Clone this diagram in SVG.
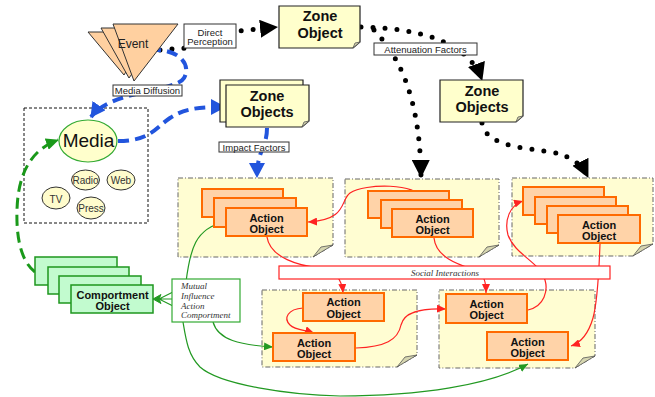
<svg xmlns="http://www.w3.org/2000/svg" width="655" height="397" viewBox="0 0 655 397">
<defs>
<style>
.lbl{font-family:"Liberation Sans",Arial,sans-serif;font-size:9.5px;fill:#222;text-anchor:middle}
.lblbox{fill:#fff;stroke:#333;stroke-width:1}
.zone{fill:#FFFFCC;stroke:#222;stroke-width:1.2}
.fold{fill:#D6D6B0;stroke:#555;stroke-width:0.8}
.zt{font-family:"Liberation Sans",Arial,sans-serif;font-weight:bold;font-size:14.5px;fill:#111;text-anchor:middle}
.panel{fill:#FFFDD2;stroke:#666;stroke-width:1;stroke-dasharray:5 2 1 2}
.act{fill:#FFD3A8;stroke:#FF6A00;stroke-width:2}
.at{font-family:"Liberation Sans",Arial,sans-serif;font-weight:bold;font-size:11px;fill:#111;text-anchor:middle}
.comp{fill:#C2FBCF;stroke:#1E961E;stroke-width:1.5}
.tri{fill:#FFD0A0;stroke:#333;stroke-width:1}
.blue{fill:none;stroke:#2255DD;stroke-width:4;stroke-dasharray:11 6}
.dots{fill:none;stroke:#000;stroke-width:5;stroke-linecap:round;stroke-dasharray:0 12}
.red{fill:none;stroke:#F22;stroke-width:1.2}
.green{fill:none;stroke:#229922;stroke-width:1.2}
.gdash{fill:none;stroke:#1A991A;stroke-width:3;stroke-dasharray:11 6}
.it{font-family:"Liberation Serif","Times New Roman",serif;font-style:italic;font-size:9px;fill:#333}
.small{fill:#FFFCCC;stroke:#333;stroke-width:1}
.st{font-family:"Liberation Sans",Arial,sans-serif;font-size:10px;fill:#333;text-anchor:middle}
</style>
<marker id="mBlack" markerUnits="userSpaceOnUse" viewBox="0 0 18 18" markerWidth="18" markerHeight="18" refX="17" refY="9" orient="auto"><path d="M0,0 L18,9 L0,18 Z" fill="#000"/></marker>
<marker id="mBlue" markerUnits="userSpaceOnUse" viewBox="0 0 15 16" markerWidth="15" markerHeight="16" refX="14" refY="8" orient="auto"><path d="M0,0 L15,8 L0,16 Z" fill="#2255DD"/></marker>
<marker id="mRed" markerUnits="userSpaceOnUse" viewBox="0 0 9 8" markerWidth="9" markerHeight="8" refX="9" refY="4" orient="auto"><path d="M0,0 L9,4 L0,8 Z" fill="#F22"/></marker>
<marker id="mGreen" markerUnits="userSpaceOnUse" viewBox="0 0 9 8" markerWidth="9" markerHeight="8" refX="9" refY="4" orient="auto"><path d="M0,0 L9,4 L0,8 Z" fill="#229922"/></marker>
<marker id="mGreenBig" markerUnits="userSpaceOnUse" viewBox="0 0 13 12" markerWidth="13" markerHeight="12" refX="12" refY="6" orient="auto"><path d="M0,0 L13,6 L0,12 Z" fill="#1A991A"/></marker>
</defs>
<rect width="655" height="397" fill="#fff"/>

<!-- activity panels (dog-eared notes) -->
<g id="panel1">
<path class="panel" d="M178,178 H333 V245 L313,257 H178 Z"/>
<path class="fold" d="M313,257 L321,247 L333,245 Z"/>
</g>
<g id="panel2">
<path class="panel" d="M345,179 H499 V245 L479,257 H345 Z"/>
<path class="fold" d="M479,257 L487,247 L499,245 Z"/>
</g>
<g id="panel3">
<path class="panel" d="M512,178 H653 V244 L633,256 H512 Z"/>
<path class="fold" d="M633,256 L641,246 L653,244 Z"/>
</g>
<g id="panel4">
<path class="panel" d="M262,290 H417 V355 L397,367 H262 Z"/>
<path class="fold" d="M397,367 L405,357 L417,355 Z"/>
</g>
<g id="panel5">
<path class="panel" d="M439,290 H595 V356 L575,368 H439 Z"/>
<path class="fold" d="M575,368 L583,358 L595,356 Z"/>
</g>

<!-- media container -->
<g id="media-group">
<rect x="24" y="108" width="124" height="115" fill="none" stroke="#111" stroke-width="1" stroke-dasharray="3 2"/>
</g>

<!-- connectors -->
<g id="connectors">
<path class="dots" d="M160,50 L186,48 L238,31 L277,27" marker-end="url(#mBlack)"/>
<path class="dots" d="M361,27 C415,28 468,40 482,80" marker-end="url(#mBlack)"/>
<path class="dots" d="M374,30 C398,55 420,95 421,177" marker-end="url(#mBlack)"/>
<path class="dots" d="M482,123 C486,150 540,148 560,154 C572,158 582,165 588,177" marker-end="url(#mBlack)"/>

<path class="blue" d="M150,50 C178,48 192,64 184,78 C176,92 110,90 91,117" marker-end="url(#mBlue)"/>
<path class="blue" d="M118,141 C150,141 155,128 170,118 C185,108 200,107 225,107" marker-end="url(#mBlue)"/>
<path class="blue" d="M267,128 C267,148 257,150 257,177" marker-end="url(#mBlue)"/>

<path class="gdash" d="M35,272 C22,262 16,240 17,210 C18,175 30,150 58,140" marker-end="url(#mGreenBig)"/>

<path class="red" d="M422,199 C418,183 365,183 350,193 C340,200 348,220 308,222" marker-end="url(#mRed)"/>
<path class="red" d="M267,237 C270,258 300,266 320,268 C335,270 342,280 343,293" marker-end="url(#mRed)"/>
<path class="red" d="M434,238 C436,258 460,265 475,270 C485,275 486,283 486,293" marker-end="url(#mRed)"/>
<path class="red" d="M528,310 C545,306 548,290 545,280 C540,262 515,255 508,235 C504,220 510,205 523,201" marker-end="url(#mRed)"/>
<path class="red" d="M600,244 C599,270 598,300 593,318 C588,335 580,343 571,346" marker-end="url(#mRed)"/>
<path class="red" d="M303,308 C288,309 283,318 290,325 C295,330 305,330 314,333" marker-end="url(#mRed)"/>
<path class="red" d="M356,348 C385,347 398,340 401,325 C404,312 420,308 446,309" marker-end="url(#mRed)"/>

<path class="green" d="M186,282 C190,250 195,228 225,222" marker-end="url(#mGreen)"/>
<path class="green" d="M213,322 C218,340 240,345 273,347" marker-end="url(#mGreen)"/>
<path class="green" d="M183,322 C186,340 188,355 200,367 C220,385 290,395 340,396 C420,396 490,385 528,364" marker-end="url(#mGreen)"/>
<path class="green" d="M173,292 L159,299 M173,299 L159,299 M173,306 L159,299"/>
<path d="M153,299 L161,294.5 L159,299 L161,303.5 Z" fill="#229922" stroke="#229922" stroke-width="1"/>

<g id="lbl-direct">
<rect class="lblbox" x="184" y="24" width="52" height="24"/>
<text class="lbl" x="210" y="35.5">Direct</text>
<text class="lbl" x="210" y="45">Perception</text>
</g>
<g id="lbl-atten">
<rect class="lblbox" x="374" y="43" width="103" height="12"/>
<text class="lbl" x="425.5" y="52.5">Attenuation Factors</text>
</g>
<g id="lbl-diffusion">
<rect class="lblbox" x="113" y="85" width="69" height="11"/>
<text class="lbl" x="147.5" y="94">Media Diffusion</text>
</g>
<g id="lbl-impact">
<rect class="lblbox" x="219" y="142" width="70" height="10"/>
<text class="lbl" x="254" y="150.5">Impact Factors</text>
</g>
</g>

<!-- event -->
<g id="event">
<polygon class="tri" points="88,32 150,32 124,75"/>
<polygon class="tri" points="101,28 165,28 129,78"/>
<polygon class="tri" points="113,24 178,24 134,81"/>
<text x="133" y="48" font-family="Liberation Sans, Arial, sans-serif" font-size="12" fill="#222" text-anchor="middle">Event</text>
</g>

<!-- zone objects -->
<g id="zone-object">
<path class="zone" d="M279,6 H360 V42 L353,48 H279 Z"/>
<path class="fold" d="M353,48 L355,43 L360,42 Z"/>
<text class="zt" x="320" y="21">Zone</text>
<text class="zt" x="320" y="37.5">Object</text>
</g>
<g id="zone-objects-left">
<path class="zone" d="M220,80 H303 V116 L296,122 H220 Z"/>
<path class="zone" d="M226,85 H309 V121 L302,127 H226 Z"/>
<path class="fold" d="M302,127 L304,122 L309,121 Z"/>
<text class="zt" x="267" y="100.5">Zone</text>
<text class="zt" x="267" y="117">Objects</text>
</g>
<g id="zone-objects-right">
<path class="zone" d="M440,80 H523 V116 L516,122 H440 Z"/>
<path class="fold" d="M516,122 L518,117 L523,116 Z"/>
<text class="zt" x="482" y="95.5">Zone</text>
<text class="zt" x="482" y="112">Objects</text>
</g>

<!-- media -->
<g id="media">
<ellipse cx="88" cy="141" rx="29" ry="21" fill="#FFFFCC" stroke="#33AA33" stroke-width="1.2"/>
<text x="88.5" y="147" font-family="Liberation Sans, Arial, sans-serif" font-size="19" fill="#111" text-anchor="middle">Media</text>
</g>
<g id="radio"><ellipse class="small" cx="85.5" cy="180" rx="14" ry="10"/><text class="st" x="85.5" y="184">Radio</text></g>
<g id="web"><ellipse class="small" cx="121" cy="180" rx="14" ry="10"/><text class="st" x="121" y="184">Web</text></g>
<g id="tv"><ellipse class="small" cx="56" cy="198" rx="14" ry="11"/><text class="st" x="56" y="202.5">TV</text></g>
<g id="press"><ellipse class="small" cx="91" cy="208" rx="14" ry="11"/><text class="st" x="91" y="212">Press</text></g>

<!-- comportment objects -->
<g id="comportment">
<rect class="comp" x="35" y="257" width="82" height="28"/>
<rect class="comp" x="48" y="267" width="81" height="27"/>
<rect class="comp" x="59" y="276" width="82" height="27"/>
<rect class="comp" x="71" y="285" width="82" height="28"/>
<text class="at" x="112.5" y="298.5">Comportment</text>
<text class="at" x="112.5" y="309.5">Object</text>
</g>

<g id="mutual-influence">
<rect x="172" y="279" width="68" height="43" fill="#fff" stroke="#33AA33" stroke-width="1.2"/>
<text class="it" x="181" y="289">Mutual</text>
<text class="it" x="181" y="299">Influence</text>
<text class="it" x="181" y="308.5">Action</text>
<text class="it" x="181" y="318">Comportment</text>
</g>

<!-- action objects -->
<g id="actions-1">
<rect class="act" x="202" y="189" width="81" height="28"/>
<rect class="act" x="214" y="198" width="82" height="29"/>
<rect class="act" x="226" y="208" width="81" height="28"/>
<text class="at" x="266.5" y="221.5">Action</text>
<text class="at" x="266.5" y="232.5">Object</text>
</g>
<g id="actions-2">
<rect class="act" x="368" y="191" width="81" height="27"/>
<rect class="act" x="381" y="200" width="81" height="28"/>
<rect class="act" x="392" y="209" width="81" height="28"/>
<text class="at" x="432.5" y="222.5">Action</text>
<text class="at" x="432.5" y="234">Object</text>
</g>
<g id="actions-3">
<rect class="act" x="523" y="187" width="81" height="28"/>
<rect class="act" x="535" y="197" width="81" height="27"/>
<rect class="act" x="547" y="206" width="81" height="27"/>
<rect class="act" x="558" y="215" width="82" height="28"/>
<text class="at" x="599" y="228.5">Action</text>
<text class="at" x="599" y="240">Object</text>
</g>
<g id="action-4a">
<rect class="act" x="303" y="293" width="81" height="28"/>
<text class="at" x="343.5" y="306">Action</text>
<text class="at" x="343.5" y="317.5">Object</text>
</g>
<g id="action-4b">
<rect class="act" x="273" y="333" width="82" height="28"/>
<text class="at" x="314" y="346.5">Action</text>
<text class="at" x="314" y="358">Object</text>
</g>
<g id="action-5a">
<rect class="act" x="446" y="294" width="81" height="29"/>
<text class="at" x="486.5" y="307.5">Action</text>
<text class="at" x="486.5" y="319">Object</text>
</g>
<g id="action-5b">
<rect class="act" x="487" y="332" width="81" height="28"/>
<text class="at" x="527.5" y="345.5">Action</text>
<text class="at" x="527.5" y="357">Object</text>
</g>

<!-- social interactions bar -->
<g id="social-interactions">
<rect x="279" y="266" width="331" height="13" fill="#fff" stroke="#F22" stroke-width="1.2"/>
<text class="it" x="445" y="275.5" text-anchor="middle" font-size="9.5">Social Interactions</text>
</g>
</svg>
